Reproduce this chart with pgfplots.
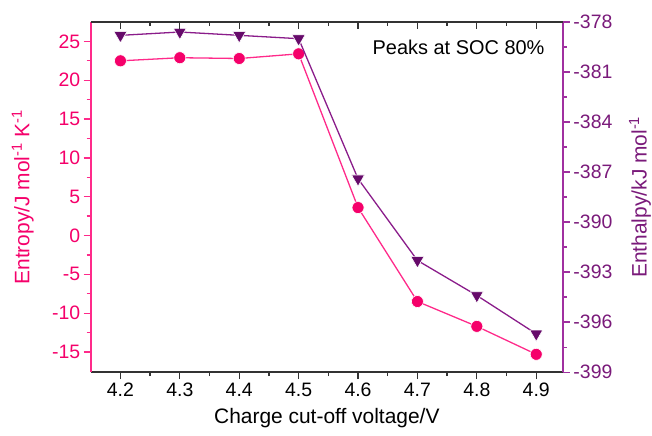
\documentclass[border=0pt]{standalone}
\usepackage{fontspec}
\setmainfont{Liberation Sans}
\usepackage{pgfplots}
\pgfplotsset{compat=1.18}
\definecolor{pk}{HTML}{FF2A8A}
\definecolor{pkm}{HTML}{F5006A}
\definecolor{pu}{HTML}{8A1C8A}
\definecolor{pum}{HTML}{660A6A}
\definecolor{puax}{HTML}{A030A0}
\definecolor{putx}{HTML}{7A1A7A}

\pgfplotstableread{
x y
4.2 22.5
4.3 22.9
4.4 22.8
4.5 23.4
4.6 3.6
4.7 -8.5
4.8 -11.7
4.9 -15.3
}\entropy

\pgfplotstableread{
x y
4.2 -378.8
4.3 -378.6
4.4 -378.8
4.5 -379.0
4.6 -387.4
4.7 -392.3
4.8 -394.4
4.9 -396.7
}\enthalpy

\begin{document}
\begin{tikzpicture}
\pgfplotsset{
  common/.style={
    scale only axis, width=472bp, height=350bp,
    xmin=4.15, xmax=4.945,
    xtick={4.2,4.3,4.4,4.5,4.6,4.7,4.8,4.9},
    minor x tick num=1,
    /pgf/number format/assume math mode=true,
    tick label style={font=\fontsize{19.5}{23}\selectfont},
    major tick length=7bp, minor tick length=4bp,
    every tick/.style={line width=1.3pt},
    axis line style={line width=1.8pt},
  }
}
\begin{axis}[common, name=ax,
  axis y line*=left, axis x line*=bottom, tick align=outside,
  ymin=-17.6, ymax=27.5,
  ytick={-15,-10,-5,0,5,10,15,20,25}, minor y tick num=1,
  xticklabel style={/pgf/number format/.cd, fixed, fixed zerofill, precision=1},
  x axis line style={color=black!80},
  x tick style={color=black!80, line width=1.3pt},
  y axis line style={color=pk},
  y tick style={color=pk, line width=1.3pt},
  yticklabel style={color=pkm},
  xlabel={Charge cut-off voltage/V},
  ylabel={Entropy/J mol\textsuperscript{-1} K\textsuperscript{-1}},
  every axis x label/.style={at={(axis description cs:0.5,0)}, yshift=-46bp, anchor=center, font=\fontsize{21}{25}\selectfont},
  every axis y label/.style={at={(axis description cs:0,0.5)}, xshift=-68bp, rotate=90, anchor=center, color=pkm, font=\fontsize{21}{25}\selectfont},
]
\addplot[color=pk, line width=1.3pt, mark=*, mark size=6bp,
  mark options={fill=pkm, draw=white, line width=0.6pt}] table {\entropy};
\node[anchor=east, font=\fontsize{20}{24}\selectfont] at ([xshift=-15bp,yshift=-25bp]rel axis cs:1,1) {Peaks at SOC 80\%};
\end{axis}
\begin{axis}[common,
  axis y line*=right, axis x line=none, tick align=outside,
  ymin=-399, ymax=-378,
  ytick={-399,-396,-393,-390,-387,-384,-381,-378}, minor y tick num=1,
  y axis line style={color=puax},
  y tick style={color=puax, line width=1.3pt},
  yticklabel style={color=putx},
  ylabel={Enthalpy/kJ mol\textsuperscript{-1}},
  every axis y label/.style={at={(axis description cs:1,0.5)}, xshift=77bp, rotate=90, anchor=center, color=putx, font=\fontsize{21}{25}\selectfont},
]
\addplot[color=pu, line width=1.3pt, mark=triangle*, mark size=7.5bp,
  mark options={fill=pum, draw=white, line width=0.6pt, rotate=180}] table {\enthalpy};
\end{axis}
\begin{axis}[common,
  axis x line*=top, axis y line=none, tick align=inside,
  ymin=0, ymax=1, xticklabels={},
  x axis line style={color=black!80},
  x tick style={color=black!80, line width=1.3pt},
]
\end{axis}
\pgfresetboundingbox
\path[use as bounding box] ([xshift=-90.7bp,yshift=-63bp]ax.south west) rectangle ([xshift=89bp,yshift=22bp]ax.north east);
\end{tikzpicture}
\end{document}
